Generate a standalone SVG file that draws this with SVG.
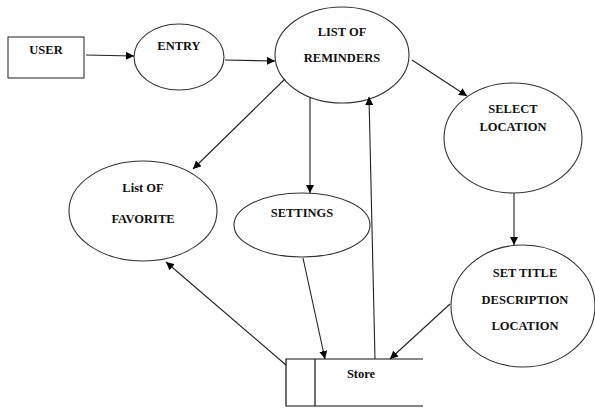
<svg xmlns="http://www.w3.org/2000/svg" width="595" height="408" viewBox="0 0 595 408">
<style>
.shape{fill:#fff;stroke:#333;stroke-width:1.1}
text{font-family:'Liberation Serif','Times New Roman',Times,serif;font-weight:bold;font-size:12.5px;fill:#111;text-anchor:middle}
.c{fill:none;stroke:#222;stroke-width:1.1;marker-end:url(#ah)}
.l{fill:none;stroke:#111;stroke-width:1.2}
</style>
<defs>
<marker id="ah" viewBox="0 0 10 10" refX="10" refY="5" markerWidth="8" markerHeight="8" markerUnits="userSpaceOnUse" orient="auto">
<path d="M0,0 L10,5 L0,10 z" fill="#000"/>
</marker>
</defs>
<rect width="595" height="408" fill="#fff"/>
<g id="user"><rect class="shape" x="8" y="37" width="76" height="41"/><text x="46" y="54">USER</text></g>
<g id="entry"><ellipse class="shape" cx="179" cy="57" rx="45" ry="33"/><text x="179" y="50">ENTRY</text></g>
<g id="list"><ellipse class="shape" cx="342" cy="55" rx="67" ry="48"/><text x="342" y="36">LIST OF</text><text x="342" y="62">REMINDERS</text></g>
<g id="select"><ellipse class="shape" cx="513" cy="138" rx="69" ry="55"/><text x="513" y="113">SELECT</text><text x="513" y="131">LOCATION</text></g>
<g id="favorite"><ellipse class="shape" cx="143" cy="211" rx="74" ry="50"/><text x="143" y="192">List OF</text><text x="143" y="223">FAVORITE</text></g>
<g id="settings"><ellipse class="shape" cx="302" cy="225" rx="68" ry="32"/><text x="302" y="217">SETTINGS</text></g>
<g id="settitle"><ellipse class="shape" cx="523" cy="306" rx="72" ry="61"/><text x="525" y="277">SET TITLE</text><text x="525" y="304">DESCRIPTION</text><text x="525" y="330">LOCATION</text></g>
<g id="store"><path class="l" d="M423,359 H286 V406 H423 M315,359 V406"/><text x="361" y="378">Store</text></g>
<g id="connectors">
<path class="c" d="M86,55 L134,56"/>
<path class="c" d="M225,60 L275,61"/>
<path class="c" d="M412,60 L467,96"/>
<path class="c" d="M310,97 L310,193"/>
<path class="c" d="M285,79 L193,169"/>
<path class="c" d="M514,193 L514,245"/>
<path class="c" d="M375,359 L369,97"/>
<path class="c" d="M303,258 L325,359"/>
<path class="c" d="M450,304 L390,359"/>
<path class="c" d="M286,365 L166,262"/>
</g>
</svg>
